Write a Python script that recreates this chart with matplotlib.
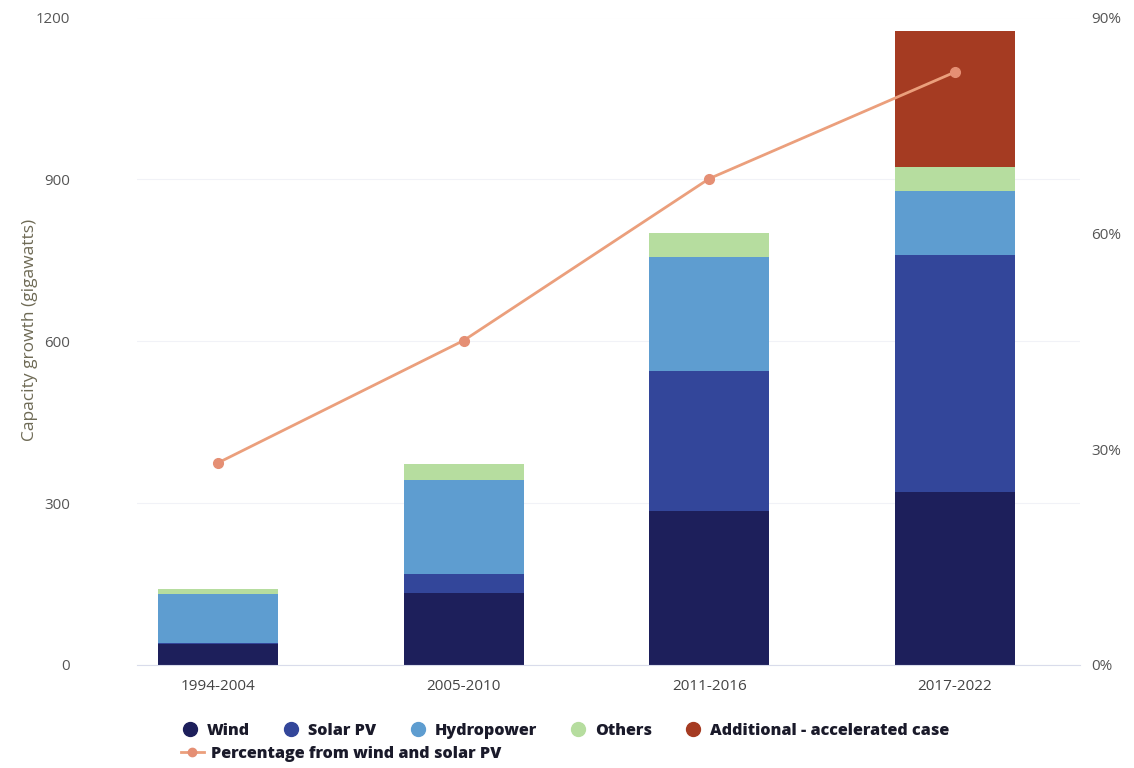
import matplotlib
matplotlib.use("Agg")
import matplotlib.pyplot as plt
from matplotlib.lines import Line2D
from matplotlib.ticker import FuncFormatter, FixedLocator
import numpy as np

# ---- data ----
periods = ["1994-2004", "2005-2010", "2011-2016", "2017-2022"]
wind = [38, 134, 286, 321]
solar_pv = [2, 35, 258, 438]
hydropower = [92, 174, 213, 119]
others = [9, 30, 43, 45]
additional = [0, 0, 0, 252]
pct_wind_solar = [28.1, 45.1, 67.6, 82.4]

series_names = ["Wind", "Solar PV", "Hydropower", "Others", "Additional - accelerated case"]
line_name = "Percentage from wind and solar PV"
left_ticks = [0, 300, 600, 900, 1200]
right_ticks = [0, 30, 60, 90]

colors = ["#1d1f5b", "#33469a", "#5e9dd0", "#b6dd9f", "#a53b22"]
line_color = "#eb9f7c"
marker_color = "#e58f74"

plt.rcParams["font.family"] = ["Open Sans", "DejaVu Sans"]

fig = plt.figure(figsize=(11.34, 7.68), dpi=100)
ax = fig.add_axes([137/1134, 1-665/768, (1080-137)/1134, (665-17.5)/768])

x = np.arange(len(periods))
bottom = np.zeros(len(periods))
for vals, c in zip([wind, solar_pv, hydropower, others, additional], colors):
    ax.bar(x, vals, width=0.488, bottom=bottom, color=c, zorder=2)
    bottom += np.array(vals)

ax.set_xlim(-0.33, 3.51)
ax.set_ylim(0, 1200)
ax.yaxis.set_major_locator(FixedLocator(left_ticks))
ax.set_xticks(x)
ax.set_xticklabels(periods)
ax.grid(axis="y", color="#f1f2f7", lw=0.8, zorder=0)
for s in ["top", "right", "left"]:
    ax.spines[s].set_visible(False)
ax.spines["bottom"].set_color("#d9dceb")
ax.tick_params(axis="y", length=0, pad=48, labelsize=10.8, labelcolor="#555555")
ax.tick_params(axis="x", length=0, pad=10, labelsize=11, labelcolor="#444444")
for lab in ax.get_yticklabels():
    lab.set_horizontalalignment("right")
ax.set_ylabel("Capacity growth (gigawatts)", fontsize=12.5, color="#6e6a55")
ax.yaxis.set_label_coords(-0.105, 0.517)

ax2 = ax.twinx()
ax2.set_ylim(0, 90)
ax2.yaxis.set_major_locator(FixedLocator(right_ticks))
ax2.yaxis.set_major_formatter(FuncFormatter(lambda v, p: f"{v:.0f}%"))
for s in ["top", "right", "left", "bottom"]:
    ax2.spines[s].set_visible(False)
ax2.tick_params(axis="y", length=0, pad=8, labelsize=11, labelcolor="#555555")
ax2.plot(x, pct_wind_solar, color=line_color, lw=2, marker="o", markersize=7,
         markerfacecolor=marker_color, markeredgecolor=marker_color, zorder=5)

handles = [Line2D([], [], ls="none", marker="o", markersize=10, color=c) for c in colors]
leg1 = fig.legend(handles, series_names, loc="center left",
                  bbox_to_anchor=(183/1134, 1-731/768), ncol=5, frameon=False,
                  handlelength=0.9, handletextpad=0.6, columnspacing=2.1,
                  borderpad=0, borderaxespad=0,
                  prop={"size": 11.6, "weight": "heavy"})
for t in leg1.get_texts():
    t.set_color("#1a1a2a")
lh = Line2D([], [], color=line_color, lw=2, marker="o", markersize=6,
            markerfacecolor=marker_color, markeredgecolor=marker_color)
leg2 = fig.legend([lh], [line_name], loc="center left",
                  bbox_to_anchor=(181/1134, 1-754/768), frameon=False,
                  handlelength=1.4, handletextpad=0.45, borderpad=0, borderaxespad=0,
                  prop={"size": 11.6, "weight": "heavy"})
for t in leg2.get_texts():
    t.set_color("#1a1a2a")

fig.savefig("out.png", dpi=100)
